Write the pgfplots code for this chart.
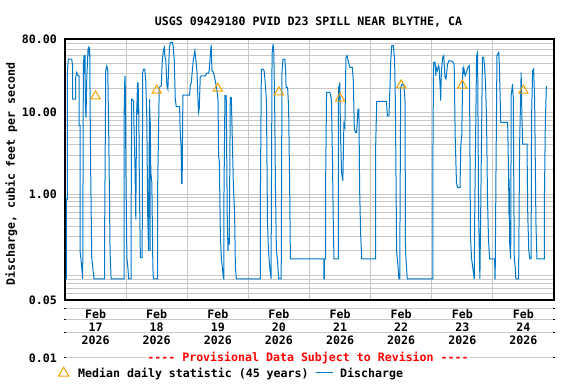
\documentclass[border=0pt]{standalone}
\usepackage{fontspec}
\setmonofont{DejaVu Sans Mono}
\usepackage{pgfplots}
\pgfplotsset{compat=1.18}
\definecolor{usgsblue}{RGB}{0,120,200}
\definecolor{usgsorange}{RGB}{240,160,0}
\definecolor{gridgray}{RGB}{200,200,200}
\begin{document}
\begin{tikzpicture}[font=\fontsize{11.6}{13}\selectfont\ttfamily\bfseries]
\begin{scope}[x=1pt,y=1pt]
\useasboundingbox[fill=white] (0,0) rectangle (576,384);
\foreach \yy in {308,319,332,357}{
  \draw[gridgray, line width=1pt] (65,384-\yy) -- (554,384-\yy);
  \draw[black, line width=1pt] (64,384-\yy) -- (66,384-\yy);
  \draw[black, line width=1pt] (553,384-\yy) -- (555,384-\yy);
}
\end{scope}
\begin{axis}[at={(65pt,84pt)}, anchor=south west, scale only axis,
  width=489pt, height=261pt,
  xmin=0, xmax=192, ymin=0.05, ymax=80, ymode=log,
  xtick={24,48,72,96,120,144,168}, xticklabels={},
  ytick={0.05,1,10,80}, yticklabels={0.05,1.00,10.00,80.00},
  minor ytick={0.06,0.07,0.08,0.09,0.1,0.2,0.3,0.4,0.5,0.6,0.7,0.8,0.9,2,3,4,5,6,7,8,9,20,30,40,50,60,70},
  grid=both, grid style={gridgray, line width=1pt}, minor grid style={gridgray, line width=1pt},
  major tick length=0pt, minor tick length=0pt,
  axis line style={black, line width=1.2pt},
  yticklabel style={inner sep=0pt, xshift=-8pt, font=\fontsize{11.6}{13}\selectfont\ttfamily\bfseries}]
\addplot[usgsblue, line width=1pt] coordinates {
(0,0.091)(0.52,0.091)(0.52,0.86)(0.92,0.86)(0.92,31.1)(1.31,45.4)(2.62,45.4)(2.9,39.4)(3.02,39.4)(3.02,14.6)(4.2,14.6)(4.2,27.0)(4.59,31.1)(5.11,28.3)(5.51,28.3)(5.51,6.9)(5.9,6.9)(5.9,0.20)(6.29,0.158)(6.56,0.125)(6.95,0.091)(7.21,37.6)(7.47,49.9)(7.6,29.7)(7.7,49.9)(7.87,49.9)(8.0,11.6)(8.26,8.7)(8.52,24.6)(9.05,60.3)(9.31,63.2)(9.5,55)(9.7,63.2)(9.83,16.9)(10.1,1.75)(10.5,0.166)(10.9,0.125)(11.4,0.091)(15.6,0.091)(15.6,0.49)(16.0,32.6)(16.4,37.6)(16.8,32.6)(17.2,4.7)(17.7,0.19)(18.1,0.091)(23.2,0.091)(23.2,9.1)(23.5,28.3)(23.55,9.6)(23.6,28.3)(23.7,16.9)(23.9,2.2)(24.3,0.166)(24.7,0.125)(25.0,0.091)(26.0,0.091)(26.0,0.86)(26.2,14.6)(26.9,14.0)(27.1,6.6)(27.5,2.0)(27.8,0.49)(28.1,9.1)(28.5,23.5)(28.6,9.6)(28.7,23.5)(29.0,9.6)(29.2,1.26)(29.6,0.166)(30.3,0.166)(30.5,31.1)(30.9,34.2)(31.3,34.2)(31.7,24.6)(32.1,9.1)(32.5,0.49)(32.8,0.20)(33.0,1.92)(33.2,14.6)(33.35,8.7)(33.4,0.20)(33.45,8.7)(33.7,1.84)(34.1,1.38)(34.5,0.125)(34.7,0.091)(36.4,0.091)(36.4,1.32)(37.0,20.4)(37.8,21.3)(38.2,43.4)(38.6,57.5)(39.0,63.2)(39.2,49.9)(39.6,43.4)(40.0,21.3)(40.4,19.4)(40.8,43.4)(41.0,63.2)(41.4,72.8)(42.2,72.8)(42.5,63.2)(42.9,43.4)(43.3,14.6)(43.7,11.8)(45.0,11.8)(45.2,6.3)(45.6,3.7)(45.8,1.32)(45.9,3.7)(46.0,1.32)(46.1,3.7)(46.3,16.4)(48.9,16.4)(49.2,21.3)(49.6,23.5)(50.0,32.6)(50.4,45.4)(50.8,52.4)(51.0,57.5)(51.4,43.4)(51.8,32.6)(52.2,15.3)(52.4,10.0)(52.7,11.0)(53.1,27.0)(53.5,28.3)(55.1,28.3)(55.7,30.5)(56.4,30.5)(56.6,32.6)(57.0,47.6)(57.4,68.1)(57.7,32.6)(58.3,31.1)(59.0,24.6)(59.7,18.5)(60.1,14.0)(60.3,2.9)(60.6,2.55)(61.0,0.31)(61.4,0.158)(61.8,0.125)(62.2,0.091)(62.4,0.091)(62.4,0.86)(62.8,16.1)(63.3,16.1)(63.7,0.54)(64.0,0.20)(64.1,0.29)(64.5,0.24)(64.9,15.3)(65.3,15.3)(65.7,4.7)(66.1,1.32)(66.6,0.56)(66.9,0.125)(67.3,0.091)(76.7,0.091)(76.7,0.82)(77.1,34.2)(77.7,34.2)(78.2,32.6)(78.6,23.5)(79.1,14.0)(79.5,0.45)(79.9,0.20)(80.4,0.125)(80.9,0.091)(81.3,52.4)(81.7,69.5)(82.0,54.8)(82.4,7.9)(82.6,1.45)(83.0,0.20)(83.4,0.158)(83.9,0.091)(84.9,0.091)(84.9,0.125)(85.2,31.1)(85.6,45.4)(86.3,45.4)(86.5,37.6)(86.7,28.3)(86.8,20.4)(87.4,20.4)(87.8,11.6)(88.2,1.32)(88.5,0.16)(101.6,0.16)(101.6,0.091)(101.8,0.091)(101.9,0.16)(102.3,0.16)(102.3,1.09)(102.7,17.7)(104.0,17.7)(104.6,14.6)(105.0,2.9)(105.3,0.54)(105.6,0.16)(107.3,0.16)(107.3,14.0)(107.5,21.3)(107.6,14)(107.9,23.5)(108.2,4.9)(108.6,1.84)(109.1,1.45)(109.5,7.2)(109.9,6.6)(110.3,47.6)(110.8,49.9)(111.3,41.3)(111.9,35.9)(112.8,35.9)(113.2,24.6)(113.6,6.3)(114.1,5.7)(114.5,5.7)(114.8,7.9)(115.0,11.0)(115.4,11.0)(115.7,1.09)(116.1,0.31)(116.5,0.16)(122.0,0.16)(122.0,4.1)(122.4,13.7)(126.2,13.7)(126.6,9.1)(127.2,9.1)(127.6,20.4)(127.9,43.4)(128.3,66.2)(128.9,66.2)(129.4,45.4)(129.7,14.6)(129.9,2.9)(130.2,0.20)(130.8,0.125)(131.1,0.091)(131.5,0.091)(131.5,0.29)(131.8,20.4)(132.4,22.4)(133.1,21.3)(133.5,14.0)(133.7,0.20)(134.1,0.125)(134.4,0.091)(144.4,0.091)(144.4,1.52)(144.7,41.3)(145.3,41.3)(145.6,28.3)(145.7,35.9)(146.2,32.6)(146.6,37.6)(146.9,35.9)(147.4,17.7)(147.5,14.0)(147.6,19.4)(147.8,32.6)(148.3,47.6)(148.7,49.9)(148.9,39.4)(149.2,27.0)(149.6,25.8)(150.2,39.4)(150.8,43.4)(152.1,42.5)(152.8,39.4)(153.2,5.2)(153.7,1.38)(154.1,1.20)(155.1,1.20)(155.4,3.9)(155.8,5.4)(156.2,35.9)(156.4,29.7)(156.6,35)(157.1,28.3)(157.8,32.6)(158.2,35.9)(158.8,37.6)(159.2,0.31)(159.6,0.166)(160.1,0.125)(160.7,0.091)(160.9,0.71)(161.6,49.9)(162.0,54.8)(162.4,0.56)(162.9,0.091)(163.2,0.54)(163.9,47.6)(164.4,47.6)(164.7,37.6)(165.1,23.5)(165.5,9.1)(165.9,0.82)(166.3,0.27)(166.7,0.16)(168.7,0.16)(168.8,0.091)(168.9,0.091)(169.2,1.52)(169.6,49.9)(170.3,54.8)(170.5,41.3)(171.1,7.6)(173.8,7.6)(174.2,1.52)(174.3,0.56)(174.4,1.52)(174.6,0.24)(175.0,0.16)(175.2,16.4)(175.5,19.4)(175.7,22.4)(176.0,15.3)(176.4,0.158)(176.8,0.125)(177.0,0.091)(178.1,0.091)(178.5,4.1)(179.1,31.1)(179.4,9.1)(179.7,4.1)(181.4,4.1)(181.7,0.56)(182.1,0.20)(182.5,0.16)(183.0,0.16)(183.2,9.1)(183.6,32.6)(184.0,34.2)(184.4,14.0)(184.9,0.45)(185.3,0.16)(188.2,0.16)(188.2,0.71)(188.6,7.6)(189.0,21.3)
};
\addplot[only marks, mark=triangle, mark size=5.3pt, usgsorange, mark options={line width=1pt}] coordinates {
(12,15.9)(36,18.7)(60,19.8)(84,17.8)(108,14.9)(132,21.7)(156,21.5)(180,18.7)
};
\end{axis}
\begin{scope}[x=1pt,y=1pt]
\node[anchor=base] at (308.5,384-25) {USGS 09429180 PVID D23 SPILL NEAR BLYTHE, CA};
\node[rotate=90, anchor=base] at (15,384-174) {Discharge, cubic feet per second};
\foreach \d [count=\i from 0] in {17,18,19,20,21,22,23,24}{
  \pgfmathsetmacro{\xx}{65+(12+24*\i)*2.546875}
  \node[anchor=base] at (\xx,384-318) {Feb};
  \node[anchor=base] at (\xx,384-331) {\d};
  \node[anchor=base] at (\xx,384-344) {2026};
}
\node[anchor=east, inner sep=0pt] at (57,384-358) {0.01};
\node[fill=white, text=red, inner sep=1pt] at (308,384-358) {---- Provisional Data Subject to Revision ----};
\draw[usgsorange, line width=1pt] (58.6,384-376) -- (68.8,384-376) -- (63.7,384-367.2) -- cycle;
\node[anchor=base west, inner sep=0pt] at (78,384-377) {Median daily statistic (45 years)};
\draw[usgsblue, line width=1pt] (316,384-372.7) -- (333,384-372.7);
\node[anchor=base west, inner sep=0pt] at (340,384-377) {Discharge};
\end{scope}
\end{tikzpicture}
\end{document}
